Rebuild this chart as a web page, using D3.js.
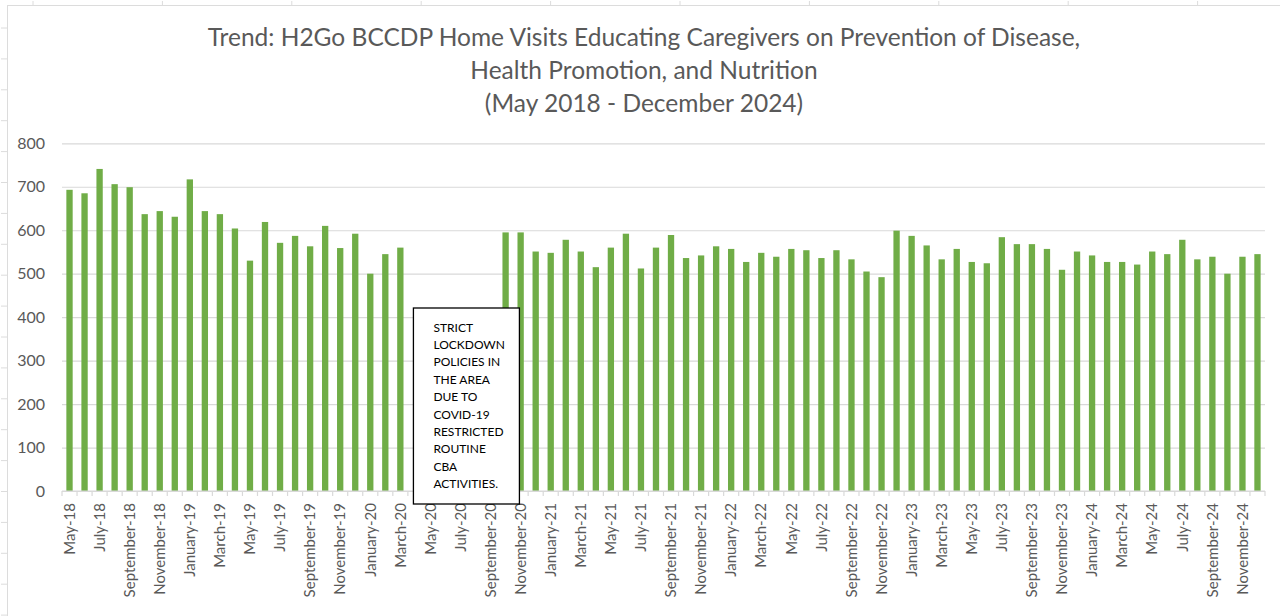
<!DOCTYPE html>
<html>
<head>
<meta charset="utf-8">
<script src="https://cdn.jsdelivr.net/npm/d3@7"></script>
<style>
  body { margin: 0; background: #fff; }
  svg { display: block; }
</style>
</head>
<body>
<div id="chart"></div>
<script>
// month names used for category labels
var monthNames = ["January", "February", "March", "April", "May", "June",
  "July", "August", "September", "October", "November", "December"];

// home visits per month (null = no activity, lockdown)
var visits2018 = [693, 685, 741, 706, 699, 637, 644, 631];   // May - Dec
var visits2019 = [717, 644, 637, 604, 530, 619, 571, 587, 563, 610, 559, 592];
var visits2020 = [500, 545, 560, null, null, null, null, null, null, 595, 595, 551];
var visits2021 = [548, 578, 551, 515, 560, 592, 512, 560, 589, 536, 542, 563];
var visits2022 = [557, 527, 548, 539, 557, 554, 536, 554, 533, 505, 492, 599];
var visits2023 = [587, 565, 533, 557, 527, 524, 584, 568, 568, 557, 509, 551];
var visits2024 = [542, 527, 527, 521, 551, 545, 578, 533, 539, 500, 539, 545];

var yTicks = [0, 100, 200, 300, 400, 500, 600, 700, 800];

var titleLines = [
  "Trend: H2Go BCCDP Home Visits Educating Caregivers on Prevention of Disease,",
  "Health Promotion, and Nutrition",
  "(May 2018 - December 2024)"
];
var noteLines = ["STRICT", "LOCKDOWN", "POLICIES IN", "THE AREA", "DUE TO",
  "COVID-19", "RESTRICTED", "ROUTINE", "CBA", "ACTIVITIES."];

// build the table
var data = [];
function addYear(year, vals, startMonth) {
  vals.forEach(function(v, i) {
    var m = startMonth + i;
    data.push({label: monthNames[m] + "-" + String(year).slice(2), value: v});
  });
}
addYear(2018, visits2018, 4);
addYear(2019, visits2019, 0);
addYear(2020, visits2020, 0);
addYear(2021, visits2021, 0);
addYear(2022, visits2022, 0);
addYear(2023, visits2023, 0);
addYear(2024, visits2024, 0);

var W = 1280, H = 616;
var plotLeft = 62, plotRight = 1265, plotTop = 143.3, plotBottom = 491;
var font = "Lato, 'Open Sans', sans-serif";
var grey = "#595959";

var svg = d3.select("#chart").append("svg")
  .attr("width", W).attr("height", H);

// spreadsheet frame remnants
var frame = svg.append("g").attr("stroke", "#dcdcdc").attr("stroke-width", 1);
frame.append("line").attr("x1", 7).attr("x2", W).attr("y1", 5.5).attr("y2", 5.5);
frame.append("line").attr("x1", 7.5).attr("x2", 7.5).attr("y1", 5).attr("y2", H);
d3.range(28, H, 30.9).forEach(function(yy) {
  frame.append("line").attr("x1", 1).attr("x2", 7).attr("y1", yy).attr("y2", yy);
});
d3.range(33, W, 129.4).forEach(function(xx) {
  frame.append("line").attr("x1", xx).attr("x2", xx).attr("y1", 1).attr("y2", 5);
});

var x = d3.scaleBand()
  .domain(data.map(function(d) { return d.label; }))
  .range([plotLeft, plotRight])
  .paddingInner(0.58)
  .paddingOuter(0.29);

var y = d3.scaleLinear().domain([0, 800]).range([plotBottom, plotTop]);

// gridlines + y labels
var yAxis = svg.append("g")
  .attr("transform", "translate(" + plotLeft + ",0)")
  .call(d3.axisLeft(y).tickValues(yTicks).tickSize(-(plotRight - plotLeft)).tickPadding(17));
yAxis.select(".domain").remove();
yAxis.selectAll(".tick line").attr("stroke", "#d9d9d9").attr("stroke-width", 1.2);
yAxis.selectAll(".tick text")
  .attr("fill", grey).style("font-family", font).style("font-size", "16px");

// bars
svg.append("g")
  .selectAll("rect")
  .data(data.filter(function(d) { return d.value != null; }))
  .enter()
  .append("rect")
  .attr("x", function(d) { return x(d.label); })
  .attr("y", function(d) { return y(d.value); })
  .attr("width", x.bandwidth())
  .attr("height", function(d) { return y(0) - y(d.value); })
  .attr("fill", "#70ad47");

// x axis line and boundary ticks
var step = x.step();
var off = step * 0.29;
var xg = svg.append("g").attr("stroke", "#d9d9d9").attr("stroke-width", 1.2);
xg.append("line").attr("x1", plotLeft).attr("x2", plotRight).attr("y1", plotBottom).attr("y2", plotBottom);
data.forEach(function(d) {
  var bx = x(d.label) - off;
  xg.append("line").attr("x1", bx).attr("x2", bx).attr("y1", plotBottom).attr("y2", plotBottom + 5);
});
xg.append("line").attr("x1", plotRight).attr("x2", plotRight).attr("y1", plotBottom).attr("y2", plotBottom + 5);

// x labels, every other month
var labelVals = data.filter(function(d, i) { return i % 2 === 0; }).map(function(d) { return d.label; });
var xAxis = svg.append("g")
  .attr("transform", "translate(0," + plotBottom + ")")
  .call(d3.axisBottom(x).tickValues(labelVals).tickSize(0));
xAxis.select(".domain").remove();
xAxis.selectAll(".tick text")
  .attr("transform", "rotate(-90)")
  .attr("text-anchor", "end")
  .attr("x", -12)
  .attr("y", 0)
  .attr("dy", "0.35em")
  .attr("fill", grey)
  .style("font-family", font)
  .style("font-size", "15px");

// title
svg.append("g").selectAll("text")
  .data(titleLines)
  .enter()
  .append("text")
  .attr("x", 644)
  .attr("y", function(d, i) { return 46 + i * 33; })
  .attr("text-anchor", "middle")
  .attr("fill", grey)
  .style("font-family", font)
  .style("font-size", "24.5px")
  .text(function(d) { return d; });

// lockdown note
var bx0 = x(data[23].label) + 1.2;
var note = svg.append("g");
note.append("rect")
  .attr("x", bx0).attr("y", 308)
  .attr("width", 106).attr("height", 196)
  .attr("fill", "#fff").attr("stroke", "#000").attr("stroke-width", 1.3);
note.selectAll("text")
  .data(noteLines)
  .enter()
  .append("text")
  .attr("x", bx0 + 20)
  .attr("y", function(d, i) { return 331.5 + i * 17.4; })
  .attr("fill", "#000")
  .style("font-family", font)
  .style("font-size", "12px")
  .text(function(d) { return d; });
</script>
</body>
</html>
